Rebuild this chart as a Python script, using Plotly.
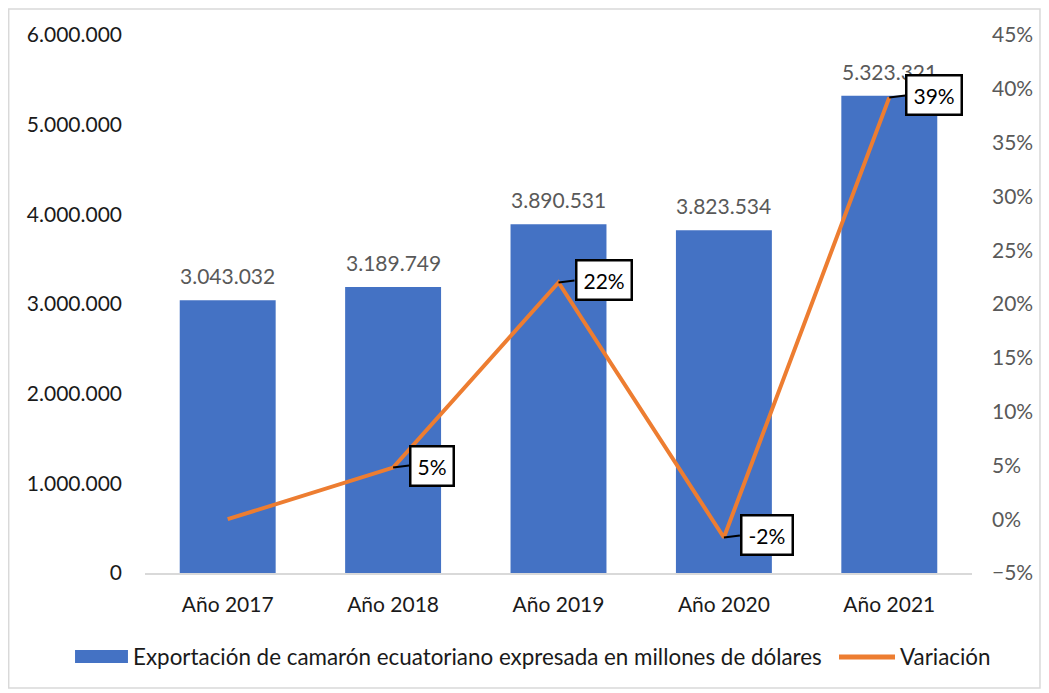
import plotly.graph_objects as go

categories = ["Año 2017", "Año 2018", "Año 2019", "Año 2020", "Año 2021"]
exports = [3043032, 3189749, 3890531, 3823534, 5323321]
variation = [0.0, 0.048, 0.22, -0.017, 0.392]
var_labels = [None, "5%", "22%", "-2%", "39%"]
left_ticks = [0, 1000000, 2000000, 3000000, 4000000, 5000000, 6000000]
right_ticks = [-0.05, 0, 0.05, 0.10, 0.15, 0.20, 0.25, 0.30, 0.35, 0.40, 0.45]
bar_name = "Exportación de camarón ecuatoriano expresada en millones de dólares"
line_name = "Variación"

FONT = "Lato"
FS = 21

fig = go.Figure()
fig.add_trace(go.Bar(
    x=categories, y=exports, name=bar_name,
    marker=dict(color="#4472C4", line=dict(width=0)),
    showlegend=False,
))
fig.add_trace(go.Scatter(
    x=categories, y=variation, yaxis="y2", mode="lines", name=line_name,
    line=dict(color="#ED7D31", width=4), showlegend=False,
))

# bar value labels
for c, v in zip(categories, exports):
    fig.add_annotation(
        x=c, y=v, text=f"{v:,}".replace(",", "."), showarrow=False,
        yanchor="bottom", yshift=10,
        font=dict(size=FS, color="#595959", family=FONT),
    )

# callout labels for variation
for c, v, lab in zip(categories, variation, var_labels):
    if lab is None:
        continue
    fig.add_annotation(
        x=c, y=v, yref="y2", text=lab, showarrow=True,
        arrowhead=0, arrowwidth=2, arrowcolor="black",
        ax=16, ay=-2, xanchor="left", yanchor="middle",
        bgcolor="white", bordercolor="black", borderwidth=2.5, borderpad=6,
        font=dict(size=FS, color="black", family=FONT),
    )

# outer chart border
fig.add_shape(type="rect", xref="paper", yref="paper",
              x0=-0.1648, x1=1.0822, y0=-0.2138, y1=1.0483,
              line=dict(color="#D9D9D9", width=1.5), layer="below")

# custom legend
fig.add_shape(type="rect", xref="paper", yref="paper",
              x0=-0.0846, x1=-0.0206, y0=-0.1673, y1=-0.1431,
              fillcolor="#4472C4", line=dict(width=0))
fig.add_annotation(xref="paper", yref="paper", x=-0.0169, y=-0.1561,
                   xanchor="left", yanchor="middle", showarrow=False,
                   text=bar_name, font=dict(size=22.4, color="#1a1a1a", family=FONT))
fig.add_shape(type="line", xref="paper", yref="paper",
              x0=0.8392, x1=0.9069, y0=-0.1561, y1=-0.1561,
              line=dict(color="#ED7D31", width=5))
fig.add_annotation(xref="paper", yref="paper", x=0.9105, y=-0.1561,
                   xanchor="left", yanchor="middle", showarrow=False,
                   text=line_name, font=dict(size=22.4, color="#1a1a1a", family=FONT))

fig.update_layout(
    width=1041, height=685,
    margin=dict(l=137, r=77, t=27, b=120, autoexpand=False),
    paper_bgcolor="white", plot_bgcolor="white",
    separators=",.",
    font=dict(family=FONT, size=FS, color="#1a1a1a"),
    bargap=0.42,
    showlegend=False,
    xaxis=dict(showline=True, linecolor="#D9D9D9", linewidth=1.5, ticks="",
               tickfont=dict(size=FS, color="#1a1a1a"), ticklabelstandoff=12),
    yaxis=dict(range=[0, 6000000], tickvals=left_ticks, tickformat=",.0f",
               showgrid=False, zeroline=False, showline=False,
               tickfont=dict(size=FS, color="#1a1a1a"), ticklabelstandoff=22),
    yaxis2=dict(range=[-0.05, 0.45], tickvals=right_ticks, tickformat=".0%",
                overlaying="y", side="right", showgrid=False, zeroline=False,
                tickfont=dict(size=FS, color="#595959"), ticklabelstandoff=19),
)

fig.write_html("out.html")
